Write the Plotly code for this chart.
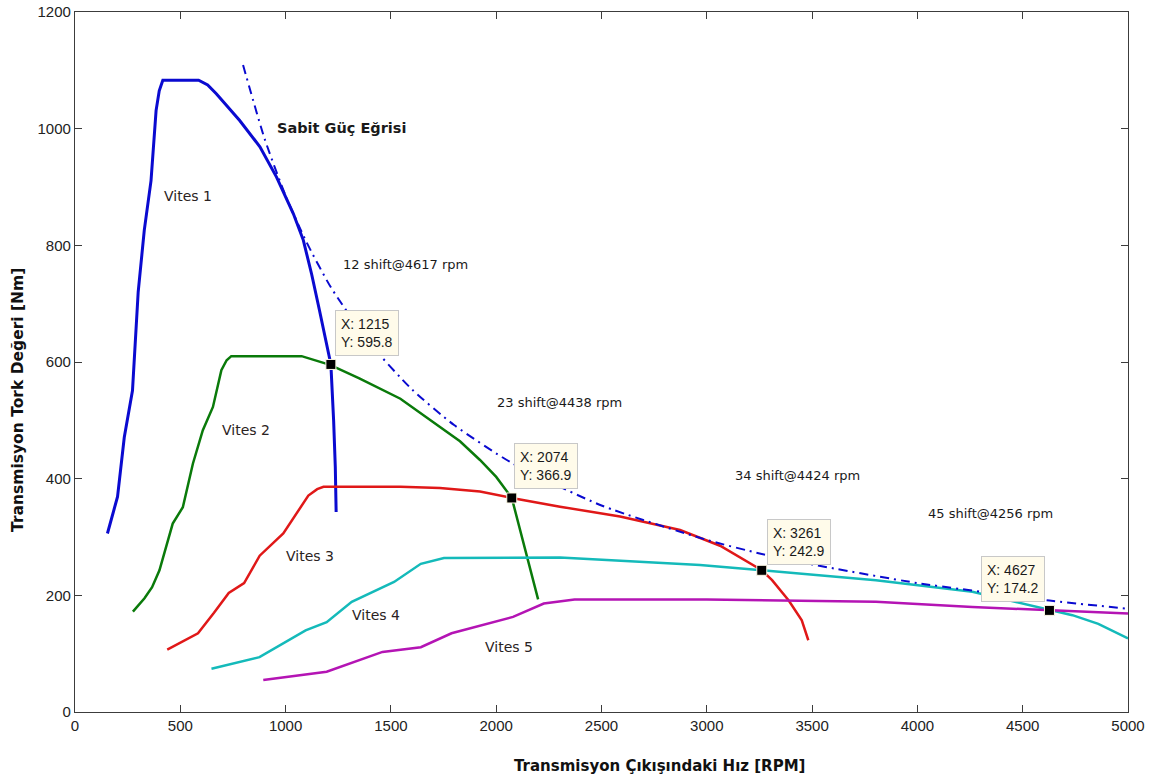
import plotly.graph_objects as go

# ---- data ----
v1_x = [154, 202, 234, 273, 300, 329, 361, 385, 400, 417, 500, 587, 630, 671, 782, 878, 957, 1037, 1084, 1124, 1160, 1190, 1215, 1228, 1236, 1240]
v1_y = [306, 369, 471, 551, 720, 826, 911, 1031, 1065, 1083, 1083, 1083, 1075, 1060, 1014, 969, 917, 854, 809, 750, 690, 640, 596, 500, 420, 343]

v2_x = [275, 330, 366, 401, 464, 512, 560, 607, 655, 695, 720, 742, 900, 1076, 1211, 1350, 1545, 1686, 1828, 1923, 2000, 2074, 2113, 2160, 2199]
v2_y = [172, 195, 214, 243, 323, 351, 426, 483, 523, 586, 603, 610, 610, 610, 595, 572, 537, 501, 464, 432, 403, 367, 312, 243, 193]

v3_x = [438, 584, 660, 730, 803, 877, 989, 1052, 1108, 1150, 1180, 1545, 1733, 1923, 2074, 2303, 2588, 2873, 3063, 3261, 3310, 3389, 3451, 3482]
v3_y = [107, 135, 170, 204, 221, 268, 306, 340, 371, 382, 386, 386, 384, 378, 367, 352, 335, 312, 285, 243, 226, 191, 157, 123]

v4_x = [648, 876, 1095, 1195, 1314, 1515, 1642, 1752, 2303, 2683, 2968, 3261, 3803, 4261, 4627, 4736, 4859, 5000]
v4_y = [74, 94, 140, 154, 189, 223, 254, 264, 265, 258, 252, 243, 226, 206, 175, 166, 151, 126]

v5_x = [894, 1195, 1460, 1642, 1788, 2080, 2226, 2372, 3000, 3803, 4261, 4627, 5000]
v5_y = [55, 69, 103, 111, 135, 163, 186, 193, 193, 189, 180, 174, 169]

pow_x = [798, 900, 1000, 1100, 1215, 1400, 1600, 1800, 2074, 2500, 3000, 3261, 3500, 4000, 4500, 4627, 5000]
pow_y = [1109, 983, 885, 805, 728, 632, 553, 492, 427, 354, 295, 271, 253, 221, 197, 191, 177]

tip_x = [1215, 2074, 3261, 4627]
tip_y = [595.8, 366.9, 242.9, 174.2]

labels = ["Vites 1", "Vites 2", "Vites 3", "Vites 4", "Vites 5"]
label_x = [413, 688, 992, 1306, 1937]
label_y = [885, 483, 267, 166, 111]

shift_text = ["12 shift@4617 rpm", "23 shift@4438 rpm", "34 shift@4424 rpm", "45 shift@4256 rpm"]
shift_x = [1263, 1994, 3124, 4040]
shift_y = [768, 531, 405, 341]

x_ticks = [0, 500, 1000, 1500, 2000, 2500, 3000, 3500, 4000, 4500, 5000]
y_ticks = [0, 200, 400, 600, 800, 1000, 1200]

colors = ["#0a0ad0", "#0a7a0a", "#e01818", "#14baba", "#b414b4"]

fig = go.Figure()

series = [(v1_x, v1_y, 3), (v2_x, v2_y, 2.5), (v3_x, v3_y, 2.5), (v4_x, v4_y, 2.5), (v5_x, v5_y, 2.5)]
for (xs, ys, w), c, name in zip(series, colors, labels):
    fig.add_trace(go.Scatter(x=xs, y=ys, mode="lines", name=name,
                             line=dict(color=c, width=w)))

fig.add_trace(go.Scatter(x=pow_x, y=pow_y, mode="lines", name="Sabit Güç Eğrisi",
                         line=dict(color="#0a0ad0", width=2, dash="9px,5px,2px,5px", shape="spline", smoothing=0.6)))

fig.add_trace(go.Scatter(x=tip_x, y=tip_y, mode="markers", name="tips",
                         marker=dict(symbol="square", size=10, color="black",
                                     line=dict(color="#fffbe6", width=1))))

ann = []
for t, x, y in zip(labels, label_x, label_y):
    ann.append(dict(x=x, y=y, text=t, showarrow=False, xanchor="left", yanchor="middle",
                    font=dict(family="DejaVu Sans, Verdana", size=14, color="#2a2222")))
for t, x, y in zip(shift_text, shift_x, shift_y):
    ann.append(dict(x=x, y=y, text=t, showarrow=False, xanchor="left", yanchor="middle",
                    font=dict(family="DejaVu Sans, Verdana", size=13, color="#1a1a1a")))
ann.append(dict(x=950, y=1001, text="<b>Sabit Güç Eğrisi</b>", showarrow=False, xanchor="left", yanchor="middle",
                font=dict(family="DejaVu Sans, Verdana", size=14.5, color="#1a1a1a")))

tip_shift = [(4, 8, "left"), (2, 9, "left"), (5, 5, "left"), (-4, 8, "right")]
for x, y, (xs, ys, xa) in zip(tip_x, tip_y, tip_shift):
    ann.append(dict(x=x, y=y, text=f"X: {x}<br>Y: {y}", showarrow=False,
                    xanchor=xa, yanchor="bottom", xshift=xs, yshift=ys, align="left",
                    bgcolor="#fffbea", bordercolor="#c8c8c8", borderwidth=1, borderpad=5,
                    font=dict(family="Liberation Sans, Arial", size=14, color="#1a1a1a")))

ann.append(dict(xref="paper", yref="paper", x=0.555, y=-0.077, text="<b>Transmisyon Çıkışındaki Hız [RPM]</b>",
                showarrow=False, xanchor="center", yanchor="middle",
                font=dict(family="DejaVu Sans, Verdana", size=15, color="#111")))
ann.append(dict(xref="paper", yref="paper", x=-0.054, y=0.446, text="<b>Transmisyon Tork Değeri [Nm]</b>",
                showarrow=False, xanchor="center", yanchor="middle", textangle=-90,
                font=dict(family="DejaVu Sans, Verdana", size=15.5, color="#111")))

axis_common = dict(showline=True, linecolor="#3c3c3c", linewidth=1.2, mirror="ticks",
                   ticks="inside", ticklen=7, tickcolor="#3c3c3c", showgrid=False, zeroline=False,
                   automargin=False, ticklabeloverflow="allow",
                   tickfont=dict(family="Liberation Sans, Arial", size=15, color="#222"))

fig.update_layout(
    width=1160, height=782,
    margin=dict(l=75, r=32, t=12, b=70),
    paper_bgcolor="white", plot_bgcolor="white",
    showlegend=False,
    xaxis=dict(range=[0, 5000], tickvals=x_ticks, **axis_common),
    yaxis=dict(range=[0, 1200], tickvals=y_ticks, **axis_common),
    annotations=ann,
)

fig.write_html("out.html", config={"displayModeBar": False},
               post_script="document.body.style.margin='0px';")
